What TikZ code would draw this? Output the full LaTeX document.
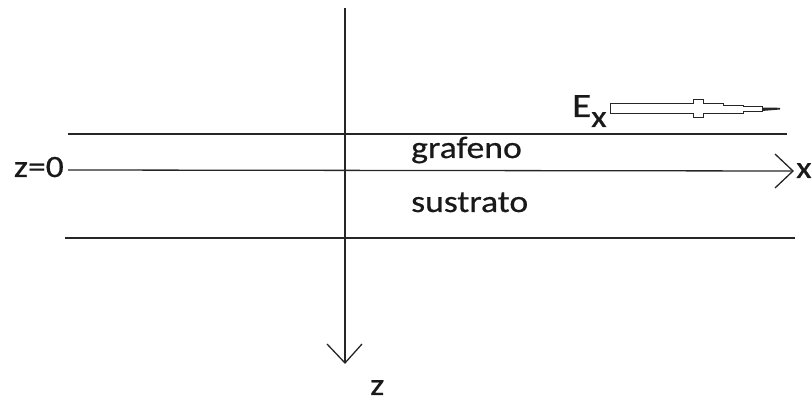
\documentclass[tikz,border=0pt]{standalone}
\usepackage{fontspec}
\setmainfont{Carlito}[FakeStretch=1.15, FakeBold=0.6]
\usetikzlibrary{calc}
\begin{document}
\begin{tikzpicture}[x=1pt,y=-1pt,
  ln/.style={line width=1.3pt, black!85},
  lbl/.style={inner sep=0pt, font=\fontsize{31}{31}\selectfont, text=black!90},
  openarrow/.style={line width=1.3pt, black!85, line join=miter}]
\useasboundingbox (0,0) rectangle (812,403);
% coordinates
\coordinate (topL) at (68,134);
\coordinate (topR) at (787,134);
\coordinate (axL) at (68,170);
\coordinate (axR) at (793,171);
\coordinate (botL) at (65,238);
\coordinate (botR) at (795,238);
\coordinate (vT) at (345,8);
\coordinate (vB) at (345,363);
% lines
\draw[ln] (topL) -- (topR);
\draw[ln] (axL) -- (axR);
\draw[ln] (botL) -- (botR);
\draw[ln] (vT) -- (vB);
% open arrowheads
\draw[openarrow] ($(axR)+(-18,-17)$) -- (axR) -- ($(axR)+(-18,17)$);
\draw[openarrow] ($(vB)+(-18,-19)$) -- (vB) -- ($(vB)+(17,-19)$);
% labels
\node[lbl, anchor=base west] (graf) at (411,158) {grafeno};
\node[lbl, anchor=base west] (sus) at (411,212) {sustrato};
\node[lbl, anchor=base east] (z0) at (64,177) {z=0};
\node[lbl, anchor=base west] (xl) at (796,178) {x};
\node[lbl, anchor=base west] (zl) at (370,395) {z};
\node[lbl, anchor=base west, font=\fontsize{34}{34}\selectfont] (E) at (572,117) {E};
\node[lbl, anchor=base west] (Ex) at (591,127) {x};
% E_x hollow arrow
\draw[line width=1pt, black!85, line join=miter]
  (610,103.3) -- (693,103.3) -- (693,100) -- (703,100) -- (703,103.3) -- (723,103.3)
  -- (723,105.5) -- (743,105.5) -- (743,107) -- (762,107)
  -- (762,111.7) -- (743,111.7) -- (743,113.5) -- (723,113.5) -- (723,113.3)
  -- (703,113.3) -- (703,118) -- (693,118) -- (693,113.3) -- (610,113.3) -- cycle;
\fill[black!85] (762,107.5) -- (780,107.8) -- (780,109.5) -- (762,111) -- cycle;
\end{tikzpicture}
\end{document}
